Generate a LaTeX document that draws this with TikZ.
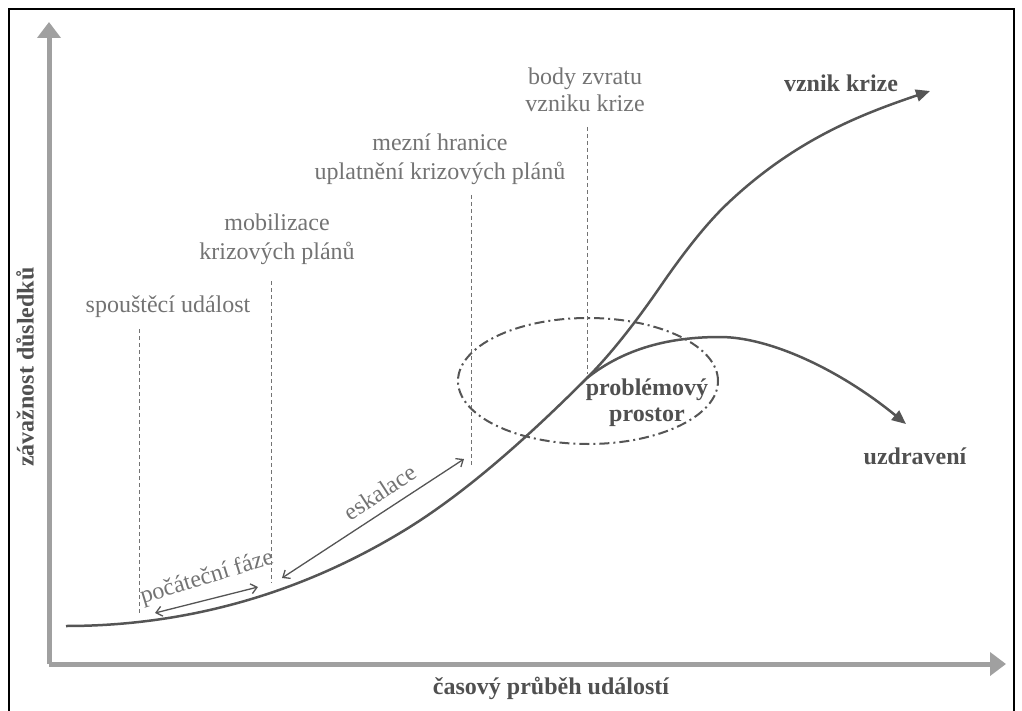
\documentclass[tikz,border=0pt]{standalone}
\usepackage{fontspec}
\setmainfont{Liberation Serif}
\usetikzlibrary{arrows.meta,shapes.geometric}
\definecolor{txt}{HTML}{737373}
\definecolor{btxt}{HTML}{505050}
\definecolor{crv}{HTML}{555555}
\definecolor{axis}{HTML}{A0A0A0}
\tikzset{
  axisline/.style={line width=5pt, draw=axis, -{Triangle[width=23pt,length=16pt]}},
  guide/.style={draw=txt, line width=1pt, dash pattern=on 4pt off 3pt},
  curve/.style={draw=crv, line width=2.5pt, -{Triangle[width=12pt,length=14pt]}},
  span/.style={draw=crv, line width=1.3pt, {Straight Barb[width=10pt,length=6pt]}-{Straight Barb[width=10pt,length=6pt]}},
  lbl/.style={text=txt, font=\fontsize{24}{29}\selectfont, align=center, inner sep=0pt},
  blbl/.style={text=btxt, font=\fontsize{24}{26}\selectfont\bfseries, align=center, inner sep=0pt},
  zone/.style={draw=crv, line width=2pt, dash pattern=on 10pt off 4pt on 2pt off 4pt}
}
\begin{document}
\begin{tikzpicture}[x=1pt,y=-1pt]
\useasboundingbox (0,0) rectangle (1022,711);
% frame
\draw[line width=1.5pt] (9,711) -- (9,9) -- (1014,9) -- (1014,711);
% axes
\coordinate (O) at (49,664);
\coordinate (ytip) at (49,22);
\coordinate (xtip) at (1006,664);
\draw[axisline] (O) -- (ytip);
\draw[axisline] (O) -- (xtip);
\node[blbl, rotate=90] (ylab) at (25,367) {závažnost důsledků};
\node[blbl] (xlab) at (551,688) {časový průběh událostí};
% guide lines
\coordinate (g1t) at (139,329); \coordinate (g1b) at (139,614);
\coordinate (g2t) at (271,281); \coordinate (g2b) at (271,583);
\coordinate (g3t) at (471,195); \coordinate (g3b) at (471,467);
\coordinate (g4t) at (587,127); \coordinate (g4b) at (587,374);
\draw[guide] (g1t) -- (g1b);
\draw[guide] (g2t) -- (g2b);
\draw[guide] (g3t) -- (g3b);
\draw[guide] (g4t) -- (g4b);
% labels
\node[lbl] (spoust) at (168,307) {spouštěcí událost};
\node[lbl] (mobil) at (277,239) {mobilizace\\krizových plánů};
\node[lbl] (mezni) at (440,159) {mezní hranice\\uplatnění krizových plánů};
\node[lbl, font=\fontsize{24}{27}\selectfont] (body) at (585,90) {body zvratu\\vzniku krize};
\node[blbl] (vznik) at (841,83) {vznik krize};
\node[blbl] (uzdr) at (915,456) {uzdravení};
\node[blbl] (prob) at (647,403) {problémový\\prostor};
\node[lbl, rotate=33] (esk) at (380,492) {eskalace};
\node[lbl, rotate=17] (poc) at (207,578) {počáteční fáze};
% ellipse
\node[zone, shape=ellipse, minimum width=260pt, minimum height=126pt, inner sep=0pt] (ell) at (588,381) {};
% main curve
\coordinate (start) at (66,626);
\coordinate (c1) at (400,533);
\coordinate (split) at (587,378);
\coordinate (c3) at (660,287);
\coordinate (c4) at (727,204);
\coordinate (crisis) at (930,91);
\coordinate (peak) at (720,337);
\coordinate (heal) at (906,424);
\draw[curve] (start) .. controls (176,626) and (290,599) .. (c1)
  .. controls (462,496) and (525,440) .. (split)
  .. controls (611,354) and (636,321.8) .. (c3)
  .. controls (682,255) and (705,225) .. (c4)
  .. controls (795,139.4) and (862,114) .. (crisis);
\draw[curve] (split) .. controls (625,348) and (670,337) .. (peak) .. controls (770,337) and (840,370) .. (heal);
% spans
\coordinate (p1) at (155,613); \coordinate (p2) at (258,587);
\coordinate (e1) at (282,578); \coordinate (e2) at (464,459);
\draw[span] (p1) -- (p2);
\draw[span] (e1) -- (e2);
\end{tikzpicture}
\end{document}
